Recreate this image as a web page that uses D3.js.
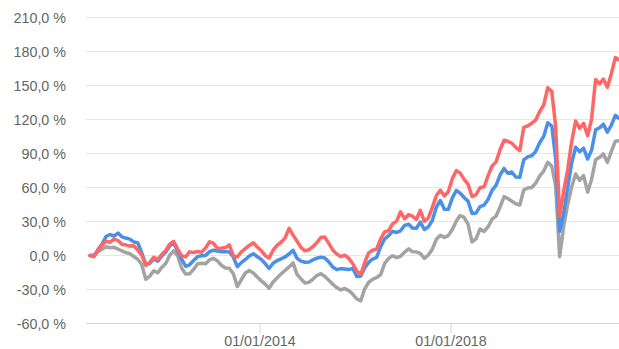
<!DOCTYPE html>
<html>
<head>
<meta charset="utf-8">
<script src="https://cdn.jsdelivr.net/npm/d3@7"></script>
<style>
  html, body { margin: 0; padding: 0; background: #fff; }
  svg { display: block; }
</style>
</head>
<body>
<svg id="chart" width="619" height="349"></svg>
<script>
// Monthly cumulative performance (%), mid-month observations from June 2010 to July 2021
const startYear = 2010, startMonth = 5; // June 2010

const seriesRed = [
  0, -1, 5.1, 9.3, 12.6, 11.7, 14.5, 13.1, 9.8, 9.4, 8.3, 8.6, 4.7, 0.4, -8.8, -6.1, -1.6, -3.6, 0.8, 4.4,
  10.1, 12.5, 5.6, -0.1, -1.2, 3.2, 2.6, 3.6, 2.8, 6.7, 12.1, 10.6, 5.9, 6.4, 7.0, 9.4, -0.4, -1.3, 3.2, 6.1,
  8.9, 11.2, 7.5, 4.1, -0.2, -2.3, 4.7, 8.9, 11.7, 15.3, 24, 18, 12.6, 7.1, 4.1, 5.1, 8.0, 11.2, 15.9, 16.4,
  10.7, 4.9, 1.3, -1.0, 0.3, -2.6, -7.1, -13.7, -16.5, -6.4, 2.3, 4.6, 5.6, 14.4, 20.8, 22.0, 27.9, 30.3, 38.6, 32.4,
  36.2, 34.7, 31.8, 39.9, 30.2, 32.9, 42.5, 52.9, 57.6, 52.5, 56.2, 67.8, 74.9, 72.9, 67.2, 62.9, 52, 53.6, 59.9, 60.6,
  70.2, 79.0, 82.4, 93.3, 101.7, 100.8, 99.0, 95.4, 92.5, 113, 114.4, 116.7, 119.6, 127.3, 132.8, 148, 144.6, 114.3, 34.5, 56.3,
  75.4, 99.9, 118.7, 112.2, 116.6, 105.7, 120.4, 155.2, 151.6, 155.6, 148.4, 160.2, 174.7, 172.5
];

const seriesBlue = [
  0, -0.5, 5.2, 10.1, 16.8, 18.5, 17.2, 19.8, 16.4, 15.4, 14.4, 12.0, 11.1, 2.2, -7.5, -7, -3, -5, -0.5, 3,
  8.5, 11, 4, -3, -9.5, -8.2, -4.4, -1.0, -0.3, 0.1, 3.4, 4.7, 3.9, 3.4, 3.4, 3.2, -1.3, -9.9, -6.3, -3.5,
  -0.4, 1.6, -1.1, -3.4, -7.4, -11.5, -6.8, -4.6, -3.0, -1.3, 1.3, 4.5, -2.5, -5.0, -6.0, -5.8, -3.8, -2.4, -1.4, -2.2,
  -5.6, -10.1, -12.5, -11.6, -11.9, -12.4, -11.3, -18.5, -18, -11.1, -6.1, -3.1, -1.6, 7.5, 14.6, 17.6, 21.3, 20.3, 21.8, 26.6,
  27.6, 24.2, 24.0, 29.5, 23.0, 25.2, 30.9, 42.8, 48.5, 40.9, 40.7, 50.8, 57.4, 55.1, 51.2, 48.0, 37, 37.4, 43.1, 44.5,
  49.4, 57.5, 61.9, 71, 76.8, 72.6, 73.7, 69.3, 69.0, 84.3, 87.1, 88.0, 91.9, 99.7, 105.1, 117.1, 114.1, 86.0, 21.3, 36.6,
  59.6, 81.2, 95.5, 91.6, 94.7, 85.1, 92.8, 110.9, 112.7, 115.9, 108.9, 114.9, 123.7, 120.9
];

const seriesGray = [
  0, 0.4, 3.4, 5.6, 7.8, 6.9, 7.2, 5.7, 4.0, 2.6, 1.7, -0.9, -3.3, -7.9, -21, -18.2, -13.5, -15.2, -10.5, -7.0,
  0.5, 4.0, -0.1, -11.1, -16.3, -16.2, -12.3, -7.2, -6.8, -7.2, -3.8, -2.5, -5.0, -8.6, -11.0, -11.3, -16.1, -27.4, -21.4, -15.4,
  -13.3, -15.4, -19.0, -22.4, -25.5, -28.9, -23.4, -19.8, -16.2, -13.2, -10.1, -6.5, -16.6, -20.7, -24.2, -23.6, -20.8, -17.7, -16.0, -18.4,
  -21.8, -25.3, -28.3, -30.4, -29.1, -31.0, -34.0, -38.4, -40, -29.6, -23.6, -21.0, -19.4, -17.1, -7.1, -2.5, -0.2, -1.9, -0.7, 3.0,
  5.9, 3.4, 3.2, 1.9, -2.6, 0.4, 5.6, 14.3, 17.8, 16.0, 17.6, 22.9, 30.5, 35.3, 33.7, 27.6, 12, 14.7, 23.4, 21.2,
  25.2, 32.1, 34.7, 42.8, 51.9, 50.3, 47.9, 45.7, 44.6, 57.8, 59.6, 60.0, 63.9, 70.2, 74.5, 82.3, 78.8, 61.9, -1, 25.1,
  44.8, 60.2, 71.9, 66.4, 70.5, 55.9, 67.1, 84.4, 86.6, 89.6, 82.2, 91.7, 100.9, 101.2
];

const yTicks = [-60, -30, 0, 30, 60, 90, 120, 150, 180, 210];
const xTickLabels = ["2014-01-01", "2018-01-01"];

const seriesColors = ["#a3a3a3", "#4a90e8", "#ff6666"];

// Layout
const W = 619, H = 349;
const plot = { left: 86, right: 619, top: 17.5, bottom: 323.5 };

const dates = seriesRed.map((_, i) => new Date(startYear, startMonth + i, 15));
const parseDay = d3.timeParse("%Y-%m-%d");
const tickDates = xTickLabels.map(parseDay);

const x = d3.scaleTime()
  .domain(tickDates)
  .range([259.5, 450.5]);

const y = d3.scaleLinear()
  .domain([d3.min(yTicks), d3.max(yTicks)])
  .range([plot.bottom, plot.top]);

const locale = d3.formatLocale({ decimal: ",", thousands: " ", grouping: [3], currency: ["", " €"], minus: "-" });
const fmtPct = v => locale.format(".1f")(v) + " %";
const fmtDate = d3.timeFormat("%d/%m/%Y");

const svg = d3.select("#chart");
const fontFamily = "'Liberation Sans', Arial, Helvetica, sans-serif";

// Horizontal grid lines
svg.append("g")
  .selectAll("line")
  .data(yTicks)
  .join("line")
  .attr("x1", plot.left).attr("x2", plot.right)
  .attr("y1", d => y(d)).attr("y2", d => y(d))
  .attr("stroke", "#e6e6e6")
  .attr("stroke-width", 1);

// Y axis labels
svg.append("g")
  .selectAll("text")
  .data(yTicks)
  .join("text")
  .attr("x", 66)
  .attr("y", d => y(d) + 5.5)
  .attr("text-anchor", "end")
  .attr("font-family", fontFamily)
  .attr("font-size", "14.3px")
  .attr("fill", "#666666")
  .text(fmtPct);

// X axis (bottom line, ticks and labels)
const xAxis = d3.axisBottom(x)
  .tickValues(tickDates)
  .tickFormat(fmtDate)
  .tickSize(10)
  .tickSizeOuter(0);

const gx = svg.append("g")
  .attr("transform", `translate(0,${plot.bottom})`)
  .call(xAxis);

gx.select(".domain").remove();
gx.insert("line", ":first-child")
  .attr("x1", plot.left).attr("x2", plot.right)
  .attr("y1", 0).attr("y2", 0)
  .attr("stroke", "#ccd6eb");
gx.selectAll(".tick line").attr("stroke", "#ccd6eb");
gx.selectAll(".tick text")
  .attr("y", 22.5)
  .attr("dy", null)
  .attr("font-family", fontFamily)
  .attr("font-size", "14.3px")
  .attr("fill", "#666666");

// Clip lines to the plotting area
svg.append("clipPath").attr("id", "plot-clip")
  .append("rect")
  .attr("x", plot.left).attr("y", 0)
  .attr("width", plot.right - plot.left).attr("height", plot.bottom);

const line = d3.line()
  .x((d, i) => x(dates[i]))
  .y(d => y(d))
  .curve(d3.curveLinear);

const allSeries = [seriesGray, seriesBlue, seriesRed];

svg.append("g")
  .attr("clip-path", "url(#plot-clip)")
  .selectAll("path")
  .data(allSeries)
  .join("path")
  .attr("d", line)
  .attr("fill", "none")
  .attr("stroke", (d, i) => seriesColors[i])
  .attr("stroke-width", 3.5)
  .attr("stroke-linejoin", "round")
  .attr("stroke-linecap", "round");
</script>
</body>
</html>
